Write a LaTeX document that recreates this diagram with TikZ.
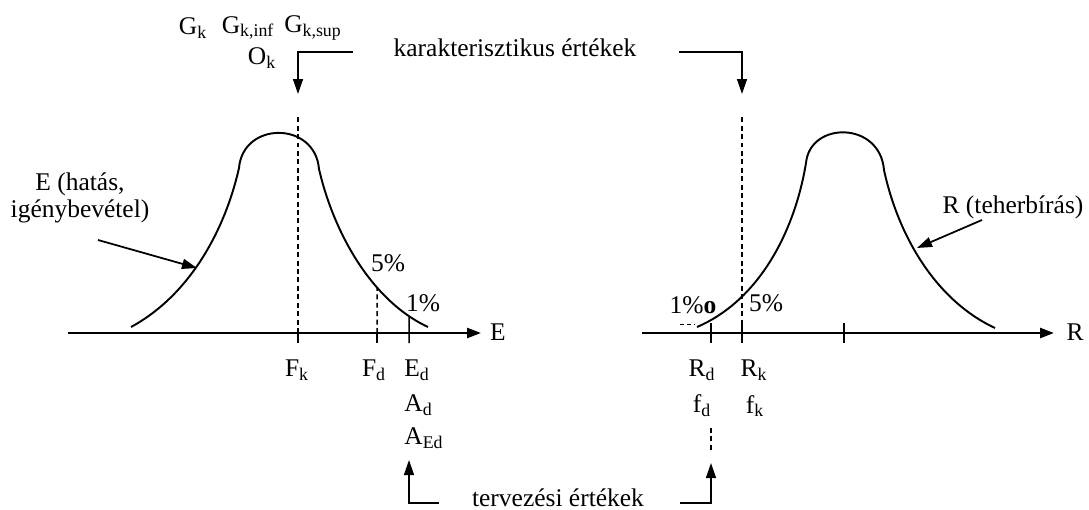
\documentclass[tikz,border=0pt]{standalone}
\usepackage{fontspec}
\setmainfont{Liberation Serif}
\usetikzlibrary{arrows.meta, calc, intersections}
\tikzset{
  lbl/.style={font=\fontsize{14.5}{15.5}\selectfont, inner sep=0pt, align=center},
  curve/.style={line width=1.1pt, color=black},
  axis/.style={line width=1.4pt, -{Triangle[length=0.28cm, width=0.2cm]}},
  tick/.style={line width=0.85pt},
  dashline/.style={line width=0.85pt, dash pattern=on 2.8pt off 2pt},
  arrow/.style={line width=0.8pt, -{Triangle[length=0.3cm, width=0.2cm]}},
  pointer/.style={line width=1pt, -{Triangle[length=0.3cm, width=0.2cm]}}
}

\begin{document}
\begin{tikzpicture}[x=0.02cm, y=-0.02cm]
  \useasboundingbox (0,0) rectangle (1089,510);

  % Axes
  \coordinate (e0) at (68,333);
  \coordinate (e1) at (481,333);
  \coordinate (r0) at (642,333);
  \coordinate (r1) at (1054,333);
  \draw[axis] (e0) -- (e1);
  \draw[axis] (r0) -- (r1);
  \node[lbl] (elbl) at (498,332) {E};
  \node[lbl] (rlbl) at (1075,332) {R};

  % Effect curve E
  \draw[curve, name path=ecurve] (131,327) .. controls (190,295) and (225,230) .. (239,168)
    .. controls (243,121) and (315,121) .. (319,169)
    .. controls (333,230) and (370,300) .. (428,327);

  % Resistance curve R
  \draw[curve, name path=rcurve] (697,327) .. controls (760,300) and (795,230) .. (806,163)
    .. controls (810,121) and (880,121) .. (884,170)
    .. controls (898,235) and (935,300) .. (995,328);

  % Ticks on the E axis
  \coordinate (fk) at (298,333);
  \coordinate (fd) at (377,333);
  \coordinate (ed) at (409,333);
  \coordinate (fktop) at (298,115);
  \path[name path=fdline] (fd) -- (377,200);
  \path[name path=edline] (ed) -- (409,200);
  \path[name intersections={of=ecurve and fdline, by=fdtop}];
  \path[name intersections={of=ecurve and edline, by=edtop}];
  \draw[tick] (fk) -- ++(0,10);
  \draw[tick] (fd) -- ++(0,10);
  \draw[tick] (edtop) -- ($(ed)+(0,10)$);
  \draw[dashline] (fk) -- (fktop);
  \draw[dashline] (fd) -- (fdtop);

  % Ticks on the R axis
  \coordinate (rd) at (711,333);
  \coordinate (rk) at (742,333);
  \coordinate (rm) at (844,333);
  \coordinate (rktop) at (742,115);
  \foreach \t in {rd, rk, rm}
    \draw[tick] ($(\t)+(0,-10)$) -- ($(\t)+(0,10)$);
  \draw[dashline] (rk) -- (rktop);
  \draw[dashline, line width=0.4pt, dash pattern=on 2pt off 2pt] (680,324) -- (695,324);

  % Percent labels
  \node[lbl] (e5) at (388,263) {5\%};
  \node[lbl] (e1p) at (423,303) {1\%};
  \node[lbl] (r1p) at (693,305) {1\%\textbf{o}};
  \node[lbl] (r5) at (766,303) {5\%};

  % Values under the E axis
  \node[lbl] (fklbl) at (297,370) {F\textsubscript{k}};
  \node[lbl] (fdlbl) at (374,370) {F\textsubscript{d}};
  \node[lbl, anchor=west] (edlbl) at (404,370) {E\textsubscript{d}};
  \node[lbl, anchor=west] (adlbl) at (404,405) {A\textsubscript{d}};
  \node[lbl, anchor=west] (aedlbl) at (404,438) {A\textsubscript{Ed}};

  % Values under the R axis
  \node[lbl] (rdlbl) at (702,370) {R\textsubscript{d}};
  \node[lbl] (rklbl) at (754,370) {R\textsubscript{k}};
  \node[lbl] (fdslbl) at (702,406) {f\textsubscript{d}};
  \node[lbl] (fkslbl) at (755,406) {f\textsubscript{k}};
  \draw[dashline] (711,428) -- (711,453);

  % Characteristic values
  \node[lbl] (gk) at (193,28) {G\textsubscript{k}};
  \node[lbl] (gkinf) at (248,28) {G\textsubscript{k,inf}};
  \node[lbl] (gksup) at (313,28) {G\textsubscript{k,sup}};
  \node[lbl] (ok) at (262,58) {O\textsubscript{k}};
  \node[lbl] (kar) at (515,48) {karakterisztikus értékek};
  \coordinate (karl) at (353,52);
  \coordinate (karr) at (679,52);
  \coordinate (fkin) at (298,94);
  \coordinate (rkin) at (742,94);
  \draw[arrow] (karl) -| (fkin);
  \draw[arrow] (karr) -| (rkin);

  % Design values
  \node[lbl] (terv) at (558,498) {tervezési értékek};
  \coordinate (tervl) at (439,503);
  \coordinate (tervr) at (680,503);
  \coordinate (edin) at (409,460);
  \coordinate (rdin) at (711,463);
  \draw[arrow] (tervl) -| (edin);
  \draw[arrow] (tervr) -| (rdin);

  % Curve names
  \node[lbl] (ename) at (80,198) {E (hatás,\\igénybevétel)};
  \coordinate (etail) at (98,240);
  \coordinate (etip) at (197,268);
  \draw[pointer] (etail) -- (etip);
  \node[lbl] (rname) at (1013,207) {R (teherbírás)};
  \coordinate (rtail) at (982,220);
  \coordinate (rtip) at (917,248);
  \draw[pointer] (rtail) -- (rtip);
\end{tikzpicture}
\end{document}
